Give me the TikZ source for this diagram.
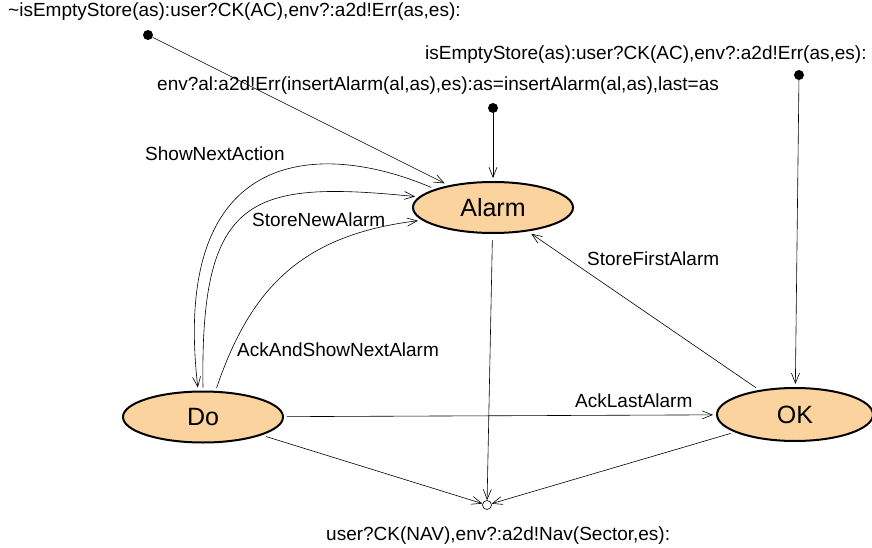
\documentclass[tikz,border=0pt]{standalone}
\usepackage{fontspec}
\setmainfont{Liberation Sans}
\usetikzlibrary{shapes.geometric,arrows.meta}
\definecolor{statefill}{RGB}{250,211,158}
\begin{document}
\begin{tikzpicture}[x=1pt,y=-1pt,
 state/.style={ellipse,draw,line width=2pt,fill=statefill,minimum width=160pt,minimum height=51pt,inner sep=0pt,outer sep=4pt,font=\fontsize{25}{29}\selectfont},
 lbl/.style={inner sep=0pt,anchor=west,font=\fontsize{19}{22}\selectfont},
 dotnode/.style={circle,fill,inner sep=0pt,minimum size=10pt},
 endnode/.style={circle,draw,line width=0.6pt,inner sep=0pt,minimum size=9pt},
 conn/.style={line width=0.6pt,-{Straight Barb[length=10pt,width=8pt]}}]
\useasboundingbox (0,0) rectangle (872,548);

\node[state] (alarm) at (493,207.5) {Alarm};
\node[state] (do) at (203,417) {Do};
\node[state,minimum width=156pt,minimum height=53pt] (ok) at (795,414.5) {OK};
\node[endnode] (final) at (487,505) {};

\node[dotnode] (dot1) at (148,35) {};
\node[dotnode] (dot2) at (799,75) {};
\node[dotnode] (dot3) at (493,108) {};

\node[lbl] (t1) at (8,12) {\textasciitilde isEmptyStore(as):user?CK(AC),env?:a2d!Err(as,es):};
\node[lbl] (t2) at (425,55) {isEmptyStore(as):user?CK(AC),env?:a2d!Err(as,es):};
\node[lbl] (t3) at (157,86) {env?al:a2d!Err(insertAlarm(al,as),es):as=insertAlarm(al,as),last=as};
\node[lbl] (l1) at (145,154) {ShowNextAction};
\node[lbl] (l2) at (252,220) {StoreNewAlarm};
\node[lbl] (l3) at (237,350) {AckAndShowNextAlarm};
\node[lbl] (l4) at (587,259) {StoreFirstAlarm};
\node[lbl] (l5) at (575,401) {AckLastAlarm};
\node[lbl] (l6) at (326,536) {user?CK(NAV),env?:a2d!Nav(Sector,es):};

\draw[conn] (dot1) -- (alarm);
\draw[conn] (dot3) -- (alarm);
\draw[conn] (dot2) -- (ok);
\draw[conn] (alarm.162) .. controls (320,140) and (170,145) .. (do.100);
\draw[conn] (do.90) .. controls (200,195) and (250,180) .. (alarm.172);
\draw[conn] (do.65) .. controls (250,290) and (300,235) .. (alarm.190);
\draw[conn] (ok) -- (alarm);
\draw[conn] (do) -- (ok);
\draw[conn,shorten <=3pt] (alarm) -- (final);
\draw[conn] (do) -- (final);
\draw[conn] (ok) -- (final);
\end{tikzpicture}
\end{document}
